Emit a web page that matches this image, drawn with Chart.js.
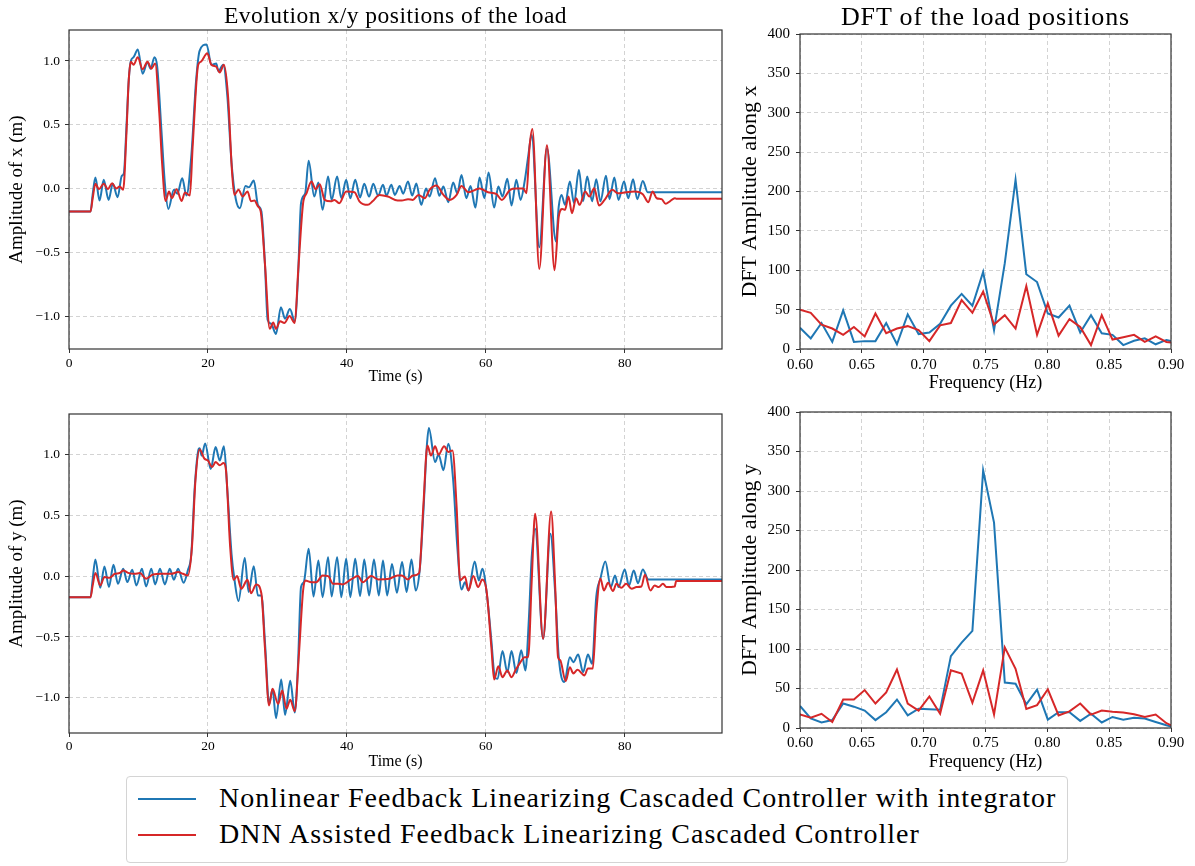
<!DOCTYPE html>
<html>
<head>
<meta charset="utf-8">
<script src="https://cdn.jsdelivr.net/npm/chart.js@4.4.1/dist/chart.umd.min.js"></script>
<style>
  html, body { margin: 0; padding: 0; background: #fff; }
  #wrap { position: relative; width: 1195px; height: 866px; overflow: hidden; background: #fff;
          font-family: "Liberation Serif", "DejaVu Serif", serif; color: #000; }
  canvas { position: absolute; }
  .title { position: absolute; white-space: nowrap; line-height: 1; transform: translateX(-50%); }
  #legend { position: absolute; left: 126px; top: 776px; width: 940px; height: 85px;
            border: 1px solid #d4d4d4; border-radius: 4px; background: #fff; }
  .sw { position: absolute; left: 11px; width: 58px; height: 2.5px; }
  .lt { position: absolute; left: 92px; font-size: 28px; line-height: 1; white-space: nowrap; letter-spacing: 1px; }
</style>
</head>
<body>
<div id="wrap">
  <canvas id="cTL"></canvas>
  <canvas id="cTR"></canvas>
  <canvas id="cBL"></canvas>
  <canvas id="cBR"></canvas>
  <div class="title" id="t1" style="left:395.5px; top:3.5px; font-size:23.5px; letter-spacing:0.5px;">Evolution x/y positions of the load</div>
  <div class="title" id="t2" style="left:985.5px; top:4px; font-size:26px; letter-spacing:0.9px;">DFT of the load positions</div>
  <div id="legend">
    <div class="sw" style="top:20.5px; background:#1f77b4;"></div>
    <div class="lt" style="top:7px;">Nonlinear Feedback Linearizing Cascaded Controller with integrator</div>
    <div class="sw" style="top:56.5px; background:#d62728;"></div>
    <div class="lt" style="top:43px;">DNN Assisted Feedback Linearizing Cascaded Controller</div>
  </div>
</div>
<script>
// ---------------- DATA ----------------
const seriesNames = ["Nonlinear Feedback Linearizing Cascaded Controller with integrator",
                     "DNN Assisted Feedback Linearizing Cascaded Controller"];

// Time-domain x position, nonlinear controller (blue)
const xBlueT = [0,3.1,3.4,3.8,4.4,5.0,5.7,6.3,7.0,7.6,7.9,8.25,8.6,8.9,9.3,9.9,10.6,11.3,11.75,12.3,12.7,13.3,13.8,14.3,15.1,15.6,16.3,16.9,17.6,18.3,18.8,19.8,20.5,21.2,21.5,22.2,22.8,23.4,24.0,24.6,25.4,25.9,26.6,27.2,27.7,28.2,28.6,29.1,29.8,30.5,31.1,31.8,32.5,32.95,33.4,34.0,34.5,35.3,35.9,36.5,37.3,37.8,38.6,39.2,39.9,40.5,41.2,41.9,42.5,43.2,43.8,44.5,45.2,45.7,46.4,46.9,47.6,48.1,48.8,49.4,50.0,50.7,51.4,51.9,52.7,53.3,53.9,54.6,55.3,55.9,56.5,57.2,57.8,58.5,59.1,59.8,60.4,61.2,61.8,62.4,63.1,63.7,64.4,65.0,65.6,66.1,66.6,67.7,68.8,70.1,70.5,70.9,71.4,72.1,72.7,73.4,74.0,74.6,75.3,75.9,76.5,77.3,77.8,78.5,79.1,79.9,80.5,81.2,81.8,82.6,83.3,94];
const xBlueV = [-0.18,-0.18,-0.05,0.086,-0.094,0.068,-0.089,0.037,-0.068,0.10,0.12,0.46,0.85,1.0,1.03,1.09,0.90,0.99,0.94,1.03,0.955,0.46,0.04,-0.16,-0.01,-0.04,0.08,-0.055,0.25,0.85,1.08,1.13,0.97,0.98,0.92,0.97,0.72,0.2,-0.08,-0.154,0.02,0.01,0.063,-0.13,-0.18,-0.585,-1.03,-1.06,-1.14,-0.93,-1.02,-0.945,-1.04,-0.715,-0.115,-0.037,0.217,-0.063,0.047,-0.167,0.094,-0.089,0.094,-0.076,0.068,-0.076,0.068,-0.07,0.037,-0.063,0.037,-0.055,0.029,-0.055,0.029,-0.05,0.02,-0.04,0.055,-0.055,0.04,-0.128,0.0,-0.063,0.08,-0.057,0.016,-0.107,0.047,-0.037,0.107,-0.076,0.02,-0.149,0.086,-0.076,0.125,-0.149,0.016,-0.063,0.076,-0.133,0.068,-0.089,0.06,0.25,0.42,-0.46,0.316,-0.415,-0.14,-0.05,-0.128,0.055,-0.115,0.146,-0.10,0.094,-0.10,0.073,-0.10,0.10,-0.083,0.086,-0.089,0.055,-0.076,0.073,-0.083,0.06,-0.029,-0.029];

// Time-domain x position, DNN assisted controller (red)
const xRedT = [0,3.1,3.4,3.8,4.3,5.0,5.6,6.2,6.8,7.3,7.8,8.25,8.6,8.9,9.3,9.9,10.6,11.3,11.85,12.4,13.0,13.4,13.9,14.4,14.8,15.5,16.2,16.7,17.4,17.8,18.6,19.0,19.9,20.5,21.2,21.7,22.3,22.9,23.45,23.8,24.4,25.0,25.7,26.2,26.7,27.2,27.6,28.2,28.9,29.4,29.8,30.4,31.0,31.75,32.5,33.0,33.7,34.2,34.9,35.5,36.1,36.8,37.7,38.2,38.9,39.9,41.1,41.8,43.0,43.7,44.7,45.9,47.3,47.9,48.8,49.5,50.3,51.2,51.9,52.9,53.9,54.8,55.8,56.5,57.5,59.1,60.3,61.5,62.3,63.5,64.4,65.4,65.85,66.3,66.7,67.7,68.8,69.9,70.5,71.0,71.4,71.9,72.4,73.0,73.5,74.3,74.9,75.6,76.3,77.1,78.2,79.0,80.2,81.4,82.6,83.4,84.0,84.6,85.3,85.9,86.5,87.2,87.4,94];
const xRedV = [-0.18,-0.18,-0.08,0.037,-0.005,0.037,-0.005,0.042,0.0,0.016,-0.01,0.41,0.85,0.995,0.97,1.03,0.935,0.995,0.94,0.98,0.59,0.2,-0.097,-0.023,-0.076,-0.005,-0.097,-0.031,-0.055,0.33,0.97,0.995,1.06,0.97,0.955,0.91,0.97,0.72,0.146,-0.05,-0.01,-0.063,-0.023,-0.10,-0.094,-0.14,-0.18,-0.585,-1.1,-1.05,-1.10,-1.04,-1.055,-1.0,-1.055,-0.64,-0.115,-0.037,0.055,-0.005,0.034,-0.089,-0.10,-0.089,-0.115,-0.023,-0.029,-0.10,-0.128,-0.10,-0.05,-0.063,-0.094,-0.094,-0.083,-0.089,-0.05,-0.076,-0.01,0.023,-0.05,-0.089,-0.05,0.02,-0.029,0.0,-0.029,-0.042,-0.089,-0.01,0.0,0.0,-0.037,0.33,0.467,-0.63,0.34,-0.64,-0.22,-0.16,-0.167,-0.063,-0.193,-0.076,-0.128,-0.023,-0.063,0.003,-0.133,-0.089,-0.01,-0.037,-0.029,-0.023,-0.044,-0.107,-0.023,-0.076,-0.083,-0.12,-0.10,-0.076,-0.08,-0.08];

// Time-domain y position, nonlinear controller (blue)
const yBlueT = [0,3.1,3.4,3.8,4.5,5.1,5.75,6.4,7.05,7.8,8.4,9.1,9.7,10.5,11.1,11.85,12.4,13.1,13.8,14.5,15.1,15.7,16.5,17.1,17.6,18.1,18.6,18.8,19.1,19.6,20.4,21.1,21.7,22.3,22.8,23.4,23.8,24.4,25.3,25.85,26.6,27.2,27.7,28.25,28.8,29.3,29.8,30.55,31.1,31.85,32.5,32.95,33.4,33.8,34.5,35.2,35.9,36.5,37.3,37.8,38.6,39.2,39.9,40.5,41.2,41.9,42.5,43.2,43.9,44.6,45.2,45.8,46.5,47.2,47.95,48.6,49.3,49.9,50.5,51.0,51.5,51.8,52.7,53.2,53.9,54.6,55.3,55.9,56.5,57.0,57.5,58.4,59.0,59.5,60.2,60.8,61.3,61.7,62.4,63.1,63.7,64.4,65.1,65.7,66.2,66.6,67.1,68.25,69.3,70.0,70.5,71.3,72.1,72.6,73.3,74.0,74.7,75.3,75.9,76.5,77.2,78.0,78.6,79.1,80.0,80.6,81.3,81.9,82.6,83.4,94];
const yBlueV = [-0.173,-0.173,-0.03,0.137,-0.096,0.08,-0.09,0.093,-0.063,0.06,-0.049,0.052,-0.077,0.06,-0.085,0.06,-0.068,0.06,-0.068,0.06,-0.03,0.06,-0.055,0.047,0.18,0.73,1.03,1.05,0.99,1.09,0.88,1.06,0.95,1.066,0.70,0.18,-0.02,-0.205,0.148,-0.13,0.082,-0.16,-0.16,-0.58,-1.05,-0.93,-1.167,-0.85,-1.14,-0.86,-1.12,-0.75,-0.09,-0.05,0.225,-0.167,0.129,-0.173,0.156,-0.167,0.156,-0.173,0.142,-0.173,0.142,-0.164,0.137,-0.159,0.137,-0.159,0.129,-0.159,0.10,-0.137,0.115,-0.13,0.137,-0.118,0.06,0.51,1.06,1.216,0.937,1.0,0.87,1.088,0.79,0.24,-0.11,-0.05,-0.118,0.12,-0.036,0.06,-0.173,-0.53,-0.83,-0.844,-0.616,-0.79,-0.616,-0.797,-0.61,-0.775,-0.35,0.15,0.39,-0.515,0.348,-0.15,-0.666,-0.87,-0.666,-0.707,-0.644,-0.79,-0.644,-0.72,-0.17,-0.02,0.12,-0.09,0.005,-0.09,0.055,-0.077,0.047,-0.058,0.055,-0.027,-0.027];

// Time-domain y position, DNN assisted controller (red)
const yRedT = [0,3.1,3.4,3.8,4.5,5.1,5.85,6.6,7.3,7.8,8.5,9.45,10.2,11.1,12.1,13.3,14.7,15.7,16.4,17.1,17.7,18.2,18.8,19.5,20.0,20.6,21.1,21.7,22.25,22.6,23.2,23.7,24.2,24.8,25.7,26.2,26.95,27.7,28.2,28.8,29.3,30.1,30.7,31.3,31.85,32.5,33.1,33.7,34.0,34.9,35.6,36.5,37.3,38.0,38.7,39.4,40.6,41.6,42.3,43.5,44.5,46.1,47.3,47.9,48.8,49.5,50.4,51.0,51.6,52.1,52.7,53.2,54.0,54.6,55.2,55.8,56.3,57.0,57.5,58.2,58.9,59.5,60.1,60.8,61.2,61.8,62.4,63.1,63.7,64.3,64.9,65.6,66.1,66.6,67.1,68.25,69.4,70.0,70.4,70.7,71.5,72.1,72.6,73.2,74.2,74.7,75.4,75.9,76.5,77.0,77.6,78.3,78.8,79.5,80.2,81.0,81.7,82.4,82.9,83.7,84.3,84.9,85.5,86.0,87.2,87.4,94];
const yRedV = [-0.173,-0.173,-0.08,0.025,-0.077,-0.008,-0.014,0.019,0.025,0.047,0.027,0.019,0.025,-0.022,0.014,0.019,0.019,0.033,0.019,0.005,0.24,0.786,1.04,0.964,0.95,0.896,0.937,0.91,0.93,0.868,0.24,-0.03,0.0,-0.104,-0.03,-0.14,-0.068,-0.145,-0.584,-1.063,-0.926,-1.05,-0.94,-1.09,-1.016,-1.11,-0.64,-0.118,-0.036,-0.05,-0.05,0.005,0.0,-0.063,-0.063,-0.068,-0.027,0.0,-0.05,0.0,-0.027,-0.022,0.005,0.005,-0.027,0.005,0.025,0.567,1.074,0.99,1.066,0.997,1.068,1.02,1.033,0.567,-0.036,-0.003,-0.118,0.0,-0.09,-0.027,-0.118,-0.584,-0.85,-0.74,-0.83,-0.775,-0.83,-0.77,-0.715,-0.666,-0.666,-0.05,0.512,-0.515,0.53,-0.1,-0.666,-0.69,-0.863,-0.748,-0.80,-0.77,-0.816,-0.76,-0.76,-0.3,-0.02,-0.118,-0.055,-0.123,-0.063,-0.096,-0.063,-0.104,-0.09,-0.085,0.011,-0.118,-0.077,-0.09,-0.063,-0.09,-0.085,-0.04,-0.04];

// DFT frequency bins (Hz)
const freqs = [0.6000,0.6087,0.6174,0.6261,0.6349,0.6436,0.6523,0.6610,0.6697,0.6784,0.6871,0.6959,0.7046,0.7133,0.7220,0.7307,0.7394,0.7481,0.7569,0.7656,0.7743,0.7830,0.7917,0.8004,0.8091,0.8179,0.8266,0.8353,0.8440,0.8527,0.8614,0.8701,0.8788,0.8876,0.8963,0.9050];
// DFT amplitude along x
const dftXBlue = [27,13.5,33,9,49,9,10,10,33,6,44,19,21,32,55,70,55,98,24,109,215,95,85,45,40,55,21,43,20,18,5,10.5,13.5,6,11.5,8];
const dftXRed  = [50,46,31,26,18,28,16,45,20,26,29,24,10,30,33,62,46,73,31,43,26,80,18,58,17,38,28,5,43,12,15,18,9,16,9,7];
// DFT amplitude along y
const dftYBlue = [28,12,7,10,31,27,22,10,20,36,16,24.5,23.7,23,91,108,123,326,260,57.5,56,30,48.6,10.6,20,20,9,18,7,14,10.6,13,12,7.6,3.4,0];
const dftYRed  = [17,13,18,7.6,36,36,48,31,45,74,31,22,40,18,73,69,32,73,17,102,75,24,29,49,16,21,31,17,22,20.5,19.5,17.5,14,17,6,0];

// Axis ticks
const timeTicks = [0,20,40,60,80];
const posTicks = [-1.0,-0.5,0.0,0.5,1.0];
const freqTicks = [0.60,0.65,0.70,0.75,0.80,0.85,0.90];
const ampTicks = [0,50,100,150,200,250,300,350,400];

// ---------------- STYLE / HELPERS ----------------
const BLUE = '#1f77b4', RED = '#d62728';
const FONT = '"Liberation Serif", "DejaVu Serif", serif';
const zip = (a, b) => a.map((v, i) => ({x: v, y: b[i]}));
const minus = s => s.replace('-', '\u2212');

const framePlugin = {
  id: 'frame',
  afterDraw(chart) {
    const {ctx, chartArea: a} = chart;
    ctx.save();
    ctx.strokeStyle = '#333';
    ctx.lineWidth = 1.2;
    ctx.strokeRect(a.left, a.top, a.right - a.left, a.bottom - a.top);
    ctx.restore();
  }
};

function makeChart(id, pos, datasets, sx, sy, smooth) {
  const cv = document.getElementById(id);
  cv.width = pos.W; cv.height = pos.H;
  cv.style.left = pos.L + 'px'; cv.style.top = pos.T + 'px';
  cv.style.width = pos.W + 'px'; cv.style.height = pos.H + 'px';
  const gridCommon = { color: 'rgba(190,190,190,0.75)', lineWidth: 0.9, tickLength: 4, tickColor: '#333', tickWidth: 1, tickBorderDash: [] };
  return new Chart(cv.getContext('2d'), {
    type: 'line',
    data: { datasets: datasets.map(d => ({
      label: d.label, data: d.data, borderColor: d.color, backgroundColor: d.color,
      borderWidth: 2, pointRadius: 0, fill: false, order: d.order,
      tension: smooth ? 0.4 : 0, cubicInterpolationMode: smooth ? 'monotone' : 'default'
    })) },
    options: {
      responsive: false, animation: false, devicePixelRatio: 1,
      layout: { padding: { top: pos.padTop, right: pos.padRight, left: 0, bottom: 0 } },
      plugins: { legend: { display: false }, tooltip: { enabled: false }, title: { display: false } },
      scales: {
        x: {
          type: 'linear', min: sx.min, max: sx.max,
          afterBuildTicks: s => { s.ticks = sx.ticks.map(v => ({value: v})); },
          afterFit: s => { s.height = pos.hX; s.paddingLeft = 0; s.paddingRight = 0; },
          ticks: { autoSkip: false, maxRotation: 0, color: '#000', padding: sx.tickPad,
                   font: { family: FONT, size: sx.tickSize }, callback: sx.fmt },
          grid: gridCommon,
          border: { display: false, dash: [4, 3] },
          title: { display: true, text: sx.title, color: '#000', padding: { top: 0, bottom: sx.titlePad },
                   font: { family: FONT, size: sx.titleSize } }
        },
        y: {
          type: 'linear', min: sy.min, max: sy.max,
          afterBuildTicks: s => { s.ticks = sy.ticks.map(v => ({value: v})); },
          afterFit: s => { s.width = pos.wY; s.paddingTop = 0; s.paddingBottom = 0; },
          ticks: { autoSkip: false, color: '#000', padding: sy.tickPad,
                   font: { family: FONT, size: sy.tickSize }, callback: sy.fmt },
          grid: gridCommon,
          border: { display: false, dash: [4, 3] },
          title: { display: true, text: sy.title, color: '#000', padding: { top: sy.titlePad, bottom: 0 },
                   font: { family: FONT, size: sy.titleSize } }
        }
      }
    },
    plugins: [framePlugin]
  });
}

const fmtPos = v => minus(Number(v).toFixed(1));
const fmtTime = v => String(v);
const fmtFreq = v => Number(v).toFixed(2);
const fmtAmp = v => String(v);

const timeAxis = (titlePad, tickPad) => ({ min: 0, max: 94, ticks: timeTicks, fmt: fmtTime, title: 'Time (s)',
  titleSize: 16, titlePad, tickSize: 13.5, tickPad });
const freqAxis = (titlePad, tickPad) => ({ min: 0.6, max: 0.9, ticks: freqTicks, fmt: fmtFreq, title: 'Frequency (Hz)',
  titleSize: 18, titlePad, tickSize: 15, tickPad });

// Top-left: x(t)
makeChart('cTL', { L: 0, T: 20, W: 742, H: 369, padTop: 10, padRight: 20, wY: 69, hX: 40 },
  [ { label: seriesNames[0], data: zip(xBlueT, xBlueV), color: BLUE, order: 2 },
    { label: seriesNames[1], data: zip(xRedT, xRedV), color: RED, order: 1 } ],
  timeAxis(2.4, 2),
  { min: -1.258, max: 1.243, ticks: posTicks, fmt: fmtPos, title: 'Amplitude of x (m)', titleSize: 19, titlePad: 6.1, tickSize: 13.5, tickPad: 5 },
  true);

// Bottom-left: y(t)
makeChart('cBL', { L: 0, T: 404, W: 742, H: 369, padTop: 10, padRight: 20, wY: 69, hX: 40 },
  [ { label: seriesNames[0], data: zip(yBlueT, yBlueV), color: BLUE, order: 2 },
    { label: seriesNames[1], data: zip(yRedT, yRedV), color: RED, order: 1 } ],
  timeAxis(1.4, 1),
  { min: -1.289, max: 1.332, ticks: posTicks, fmt: fmtPos, title: 'Amplitude of y (m)', titleSize: 19, titlePad: 6.1, tickSize: 13.5, tickPad: 5 },
  true);

// Top-right: DFT along x
makeChart('cTR', { L: 730, T: 24, W: 465, H: 373, padTop: 10, padRight: 24, wY: 70, hX: 48 },
  [ { label: seriesNames[0], data: zip(freqs, dftXBlue), color: BLUE, order: 2 },
    { label: seriesNames[1], data: zip(freqs, dftXRed), color: RED, order: 1 } ],
  freqAxis(3.2, 3),
  { min: 0, max: 400, ticks: ampTicks, fmt: fmtAmp, title: 'DFT Amplitude along x', titleSize: 22, titlePad: 6.8, tickSize: 15, tickPad: 6 },
  false);

// Bottom-right: DFT along y
makeChart('cBR', { L: 730, T: 402, W: 465, H: 374, padTop: 10, padRight: 24, wY: 70, hX: 48 },
  [ { label: seriesNames[0], data: zip(freqs, dftYBlue), color: BLUE, order: 2 },
    { label: seriesNames[1], data: zip(freqs, dftYRed), color: RED, order: 1 } ],
  freqAxis(3.2, 2),
  { min: 0, max: 400, ticks: ampTicks, fmt: fmtAmp, title: 'DFT Amplitude along y', titleSize: 22, titlePad: 6.8, tickSize: 15, tickPad: 6 },
  false);
</script>
</body>
</html>
